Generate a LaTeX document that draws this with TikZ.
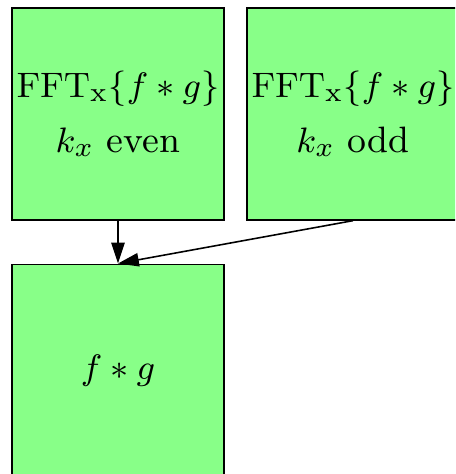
\documentclass[tikz,border=0pt]{standalone}
\usepackage{tikz}
\usetikzlibrary{shapes.geometric, arrows.meta, positioning}
\definecolor{boxgreen}{RGB}{136,255,136}

\begin{document}
\begin{tikzpicture}[x=0.2545pt,y=-0.2545pt]
\tikzstyle{block} = [rectangle, minimum width=53.9pt, minimum height=53.9pt, inner sep=0pt, text centered, align=center, draw=black, fill=boxgreen, font=\fontsize{9.35}{14}\selectfont]
\tikzstyle{arrow} = [-{Triangle[length=5.3pt,width=3.4pt]}]

\useasboundingbox (0,0) rectangle (455,474);
\clip (0,0) rectangle (455,474);

\node (even) [block] at (118,114) {$\mathrm{FFT}_{\mathrm{x}}\{f*g\}$\\$k_x$ even};
\node (odd) [block, right=5.5pt of even] {$\mathrm{FFT}_{\mathrm{x}}\{f*g\}$\\$k_x$ odd};
\node (conv) [block, below=10.9pt of even] {$f*g$};

\draw [arrow] (even) -- (conv);
\draw [arrow] (odd.south) -- (conv.north);

\end{tikzpicture}
\end{document}
